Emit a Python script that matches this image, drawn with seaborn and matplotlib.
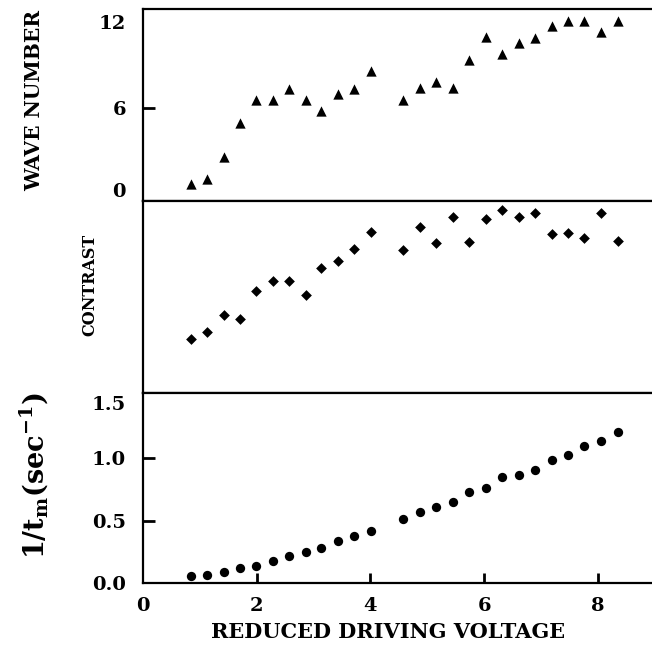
import matplotlib
matplotlib.use("Agg")
import matplotlib.pyplot as plt
import seaborn as sns
import pandas as pd

# ---- data ----
voltage = [0.84, 1.13, 1.42, 1.71, 1.99, 2.28, 2.57, 2.86, 3.14, 3.43, 3.72, 4.01,
           4.58, 4.88, 5.16, 5.45, 5.73, 6.04, 6.32, 6.61, 6.89, 7.19, 7.47, 7.76,
           8.05, 8.35]
wave_number = [1.10, 1.42, 2.86, 5.06, 6.52, 6.52, 7.24, 6.52, 5.81, 6.89, 7.25, 8.38,
               6.54, 7.28, 7.67, 7.28, 9.11, 10.57, 9.48, 10.19, 10.55, 11.29, 11.65, 11.65,
               10.94, 11.65]
contrast = [0.281, 0.319, 0.405, 0.385, 0.530, 0.585, 0.585, 0.509, 0.649, 0.688, 0.748, 0.837,
            0.743, 0.863, 0.781, 0.915, 0.785, 0.908, 0.953, 0.918, 0.936, 0.830, 0.833, 0.806,
            0.936, 0.790]
inv_tm = [0.053, 0.063, 0.087, 0.120, 0.140, 0.180, 0.215, 0.250, 0.283, 0.340, 0.375, 0.420,
          0.514, 0.570, 0.610, 0.650, 0.727, 0.758, 0.850, 0.866, 0.906, 0.987, 1.026, 1.100,
          1.136, 1.207]

x_ticks = [0, 2, 4, 6, 8]
wave_ticks = [0, 6, 12]
tm_ticks = [0.0, 0.5, 1.0, 1.5]
tm_ticklabels = ["0.0", "0.5", "1.0", "1.5"]
wave_tickmarks = [6]
tm_tickmarks = [0.5, 1.0]
x_tickmarks = [2, 4, 6, 8]

df = pd.DataFrame({"voltage": voltage, "wave": wave_number,
                   "contrast": contrast, "inv_tm": inv_tm})

sns.set_theme(style="ticks")
plt.rcParams["font.family"] = ["DejaVu Serif"]
plt.rcParams["font.weight"] = "bold"
plt.rcParams["mathtext.fontset"] = "dejavuserif"
plt.rcParams["text.color"] = "black"

fig = plt.figure(figsize=(6.52, 6.48), dpi=100)
left, width = 0.219, 0.781
ax1 = fig.add_axes([left, 0.6898, width, 0.2963])
ax2 = fig.add_axes([left, 0.3935, width, 0.2963])
ax3 = fig.add_axes([left, 0.1003, width, 0.2932])

sns.scatterplot(data=df, x="voltage", y="wave", marker="^", s=55, color="black",
                edgecolor="black", linewidth=0, ax=ax1)
sns.scatterplot(data=df, x="voltage", y="contrast", marker="D", s=30, color="black",
                edgecolor="black", linewidth=0, ax=ax2)
sns.scatterplot(data=df, x="voltage", y="inv_tm", marker="o", s=45, color="black",
                edgecolor="black", linewidth=0, ax=ax3)

ax1.set_ylim(0, 12.4)
ax1.set_yticks(wave_ticks)
ax1.set_yticklabels([str(t) for t in wave_ticks], fontweight="bold")
ax1.set_xticks([])

ax2.set_ylim(0, 1)
ax2.set_yticks([])
ax2.set_xticks([])

ax3.set_ylim(0, 1.52)
ax3.set_yticks(tm_ticks)
ax3.set_yticklabels(tm_ticklabels, fontweight="bold")
ax3.set_xticks(x_ticks)
ax3.set_xticklabels([str(t) for t in x_ticks], fontweight="bold")

for ax in (ax1, ax2, ax3):
    ax.set_xlim(0, 8.95)
    ax.set_xlabel("")
    ax.set_ylabel("")
    ax.set_facecolor("white")
    for side in ("left", "top", "bottom"):
        ax.spines[side].set_visible(True)
        ax.spines[side].set_color("black")
        ax.spines[side].set_linewidth(1.6)
    ax.spines["right"].set_visible(False)
    ax.tick_params(axis="both", which="major", length=0, width=0,
                   labelcolor="black", labelsize=14, pad=12)
ax3.tick_params(axis="x", which="major", pad=10)

# inward tick marks drawn from the spines, on top of everything
ax1.hlines(wave_tickmarks, 0, 0.024, colors="black", linewidths=2.0,
           transform=ax1.get_yaxis_transform(), zorder=10, clip_on=False)
ax3.hlines(tm_tickmarks, 0, 0.024, colors="black", linewidths=2.0,
           transform=ax3.get_yaxis_transform(), zorder=10, clip_on=False)
ax3.vlines(x_tickmarks, 0, 0.055, colors="black", linewidths=2.0,
           transform=ax3.get_xaxis_transform(), zorder=10, clip_on=False)

ylabs = ax1.get_yticklabels()
ylabs[2].set_verticalalignment("top")
ylabs[0].set_verticalalignment("bottom")
ylabs3 = ax3.get_yticklabels()
ylabs3[3].set_verticalalignment("top")

fig.text(0.052, 0.845, "WAVE NUMBER", rotation=90, ha="center", va="center",
         fontsize=14.5, fontweight="bold")
fig.text(0.138, 0.56, "CONTRAST", rotation=90, ha="center", va="center",
         fontsize=11.5, fontweight="bold")
fig.text(0.052, 0.266, r"$\mathbf{1/t_m(sec^{-1})}$", rotation=90, ha="center",
         va="center", fontsize=19.5)
fig.text(0.595, 0.025, "REDUCED DRIVING VOLTAGE", ha="center", va="center",
         fontsize=15, fontweight="bold")

fig.savefig("out.png", dpi=100, facecolor="white")
